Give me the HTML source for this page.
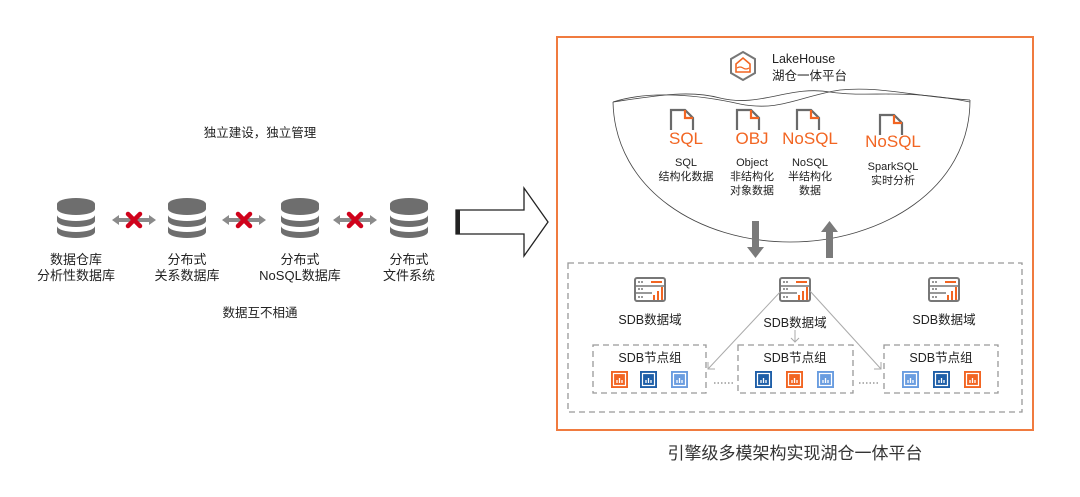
<!DOCTYPE html>
<html><head><meta charset="utf-8"><style>
html,body{margin:0;padding:0;background:#fff;width:1080px;height:497px;overflow:hidden}
svg text{font-family:"Liberation Sans","Noto Sans CJK SC",sans-serif}
</style></head><body>
<svg width="1080" height="497" viewBox="0 0 1080 497" xmlns="http://www.w3.org/2000/svg">
<defs>
<g id="db">
<path d="M-19,-14 a19,6 0 0 1 38,0 v5 a19,6 0 0 1 -38,0z" fill="#6e6e6e"/>
<path d="M-19,-3 a19,6 0 0 0 38,0 v6 a19,6 0 0 1 -38,0z" fill="#6e6e6e"/>
<path d="M-19,8 a19,6 0 0 0 38,0 v6 a19,6 0 0 1 -38,0z" fill="#6e6e6e"/>
</g>
<g id="xar">
<path d="M-22,0 l7,-5 v3 h30 v-3 l7,5 l-7,5 v-3 h-30 v3z" fill="#8a8a8a"/>
<path d="M-6,-6 l12,12 M6,-6 l-12,12" stroke="#d0021b" stroke-width="4.5" stroke-linecap="round"/>
</g>
<g id="doc">
<path d="M-13,14 v-20 h14 l8,8 v12" fill="none" stroke="#6a6a6a" stroke-width="2.2"/>
<path d="M1,-6 v8 h8" fill="none" stroke="#f26522" stroke-width="2.2"/>
</g>
<g id="srv">
<rect x="-15" y="-11" width="30" height="23" rx="2" fill="none" stroke="#777" stroke-width="2"/>
<line x1="-15" y1="-3" x2="15" y2="-3" stroke="#777" stroke-width="1.5"/>
<line x1="-15" y1="4" x2="2" y2="4" stroke="#777" stroke-width="1.5"/>
<circle cx="-11" cy="-7" r="1" fill="#777"/><circle cx="-8" cy="-7" r="1" fill="#777"/>
<circle cx="-11" cy="0" r="1" fill="#777"/><circle cx="-8" cy="0" r="1" fill="#777"/>
<circle cx="-11" cy="8" r="1" fill="#777"/><circle cx="-8" cy="8" r="1" fill="#777"/>
<line x1="1" y1="-7" x2="12" y2="-7" stroke="#f26522" stroke-width="2"/>
<path d="M4,11 v-5 M8,11 v-9 M12,11 v-13" stroke="#f26522" stroke-width="2"/>
</g>
<g id="nd">
<rect x="0" y="0" width="17" height="17"/>
<rect x="2.5" y="2.5" width="12" height="12" fill="none" stroke="#fff" stroke-width="1.2"/>
<path d="M6,12 v-3 M8.5,12 v-5 M11,12 v-3" stroke="#fff" stroke-width="1.3"/>
</g>
</defs>

<text x="260" y="137" font-size="12.5" text-anchor="middle" fill="#222">独立建设，独立管理</text>
<use href="#db" x="76" y="218"/><use href="#db" x="187" y="218"/><use href="#db" x="300" y="218"/><use href="#db" x="409" y="218"/>
<use href="#xar" x="134" y="220"/><use href="#xar" x="244" y="220"/><use href="#xar" x="355" y="220"/>
<g font-size="13" text-anchor="middle" fill="#222">
<text x="76" y="264">数据仓库</text><text x="76" y="280">分析性数据库</text>
<text x="187" y="264">分布式</text><text x="187" y="280">关系数据库</text>
<text x="300" y="264">分布式</text><text x="300" y="280">NoSQL数据库</text>
<text x="409" y="264">分布式</text><text x="409" y="280">文件系统</text>
<text x="260" y="317" font-size="12.5">数据互不相通</text>
</g>
<path d="M456,210 h68 v-22 l24,34 l-24,34 v-22 h-68z" fill="#fff" stroke="#222" stroke-width="1.3"/>
<rect x="456" y="210" width="4" height="24" fill="#222"/>

<rect x="557" y="37" width="476" height="393" fill="none" stroke="#f07b3f" stroke-width="2"/>
<text x="795" y="459" font-size="17" text-anchor="middle" fill="#333">引擎级多模架构实现湖仓一体平台</text>

<polygon points="743,52 755,59 755,73 743,80 731,73 731,59" fill="none" stroke="#777" stroke-width="2"/>
<path d="M736,72 v-8 l7,-6 l7,6 v8z" fill="none" stroke="#f26522" stroke-width="1.6"/>
<path d="M737,68 q3,-2 6,0 t6,0" fill="none" stroke="#f26522" stroke-width="1.3"/>
<text x="772" y="63" font-size="12.5" fill="#222">LakeHouse</text>
<text x="772" y="80" font-size="12.5" fill="#222">湖仓一体平台</text>

<path d="M613,102 C660,95 690,90 720,98 C760,108 790,85 830,92 C870,98 900,88 970,102" fill="none" stroke="#444" stroke-width="0.8"/>
<path d="M613,102 C650,90 700,95 740,104 C780,112 800,96 840,90 C880,86 910,96 970,100" fill="none" stroke="#444" stroke-width="0.8"/>
<path d="M613,102 C615,190 700,242 790,242 C880,242 970,190 970,100" fill="none" stroke="#444" stroke-width="0.8"/>

<use href="#doc" x="684" y="116"/><use href="#doc" x="750" y="116"/><use href="#doc" x="810" y="116"/><use href="#doc" x="893" y="121"/>
<g fill="#f26522" font-size="17" text-anchor="middle">
<text x="686" y="144">SQL</text><text x="752" y="144">OBJ</text><text x="810" y="144">NoSQL</text><text x="893" y="147">NoSQL</text>
</g>
<g font-size="11" text-anchor="middle" fill="#222">
<text x="686" y="166">SQL</text><text x="686" y="180">结构化数据</text>
<text x="752" y="166">Object</text><text x="752" y="180">非结构化</text><text x="752" y="194">对象数据</text>
<text x="810" y="166">NoSQL</text><text x="810" y="180">半结构化</text><text x="810" y="194">数据</text>
<text x="893" y="170">SparkSQL</text><text x="893" y="184">实时分析</text>
</g>
<path d="M752,221 h7 v26 h5 l-8.5,11 l-8.5,-11 h5z" fill="#7a7a7a"/>
<path d="M826,258 h7 v-26 h5 l-8.5,-11 l-8.5,11 h5z" fill="#7a7a7a"/>

<rect x="568" y="263" width="454" height="149" fill="none" stroke="#999" stroke-width="1.3" stroke-dasharray="6,4"/>
<use href="#srv" x="650" y="289"/><use href="#srv" x="795" y="289"/><use href="#srv" x="944" y="289"/>
<g font-size="12.5" text-anchor="middle" fill="#222">
<text x="650" y="324">SDB数据域</text><text x="795" y="327">SDB数据域</text><text x="944" y="324">SDB数据域</text>
</g>
<g stroke="#aaa" stroke-width="1" fill="none">
<line x1="781" y1="291" x2="708" y2="369"/><path d="M708,362 v7 h7"/>
<line x1="810" y1="291" x2="881" y2="369"/><path d="M874,369 h7 v-7"/>
<line x1="795" y1="330" x2="795" y2="342"/><path d="M791,338 l4,4 l4,-4"/>
</g>
<g fill="none" stroke="#999" stroke-width="1.3" stroke-dasharray="6,4">
<rect x="593" y="345" width="113" height="48"/><rect x="738" y="345" width="115" height="48"/><rect x="884" y="345" width="114" height="48"/>
</g>
<g font-size="12.5" text-anchor="middle" fill="#222">
<text x="650" y="362">SDB节点组</text><text x="795" y="362">SDB节点组</text><text x="941" y="362">SDB节点组</text>
</g>
<g>
<use href="#nd" x="611" y="371" fill="#f26522"/><use href="#nd" x="640" y="371" fill="#1f5fa8"/><use href="#nd" x="671" y="371" fill="#6a9de0"/>
<use href="#nd" x="755" y="371" fill="#1f5fa8"/><use href="#nd" x="786" y="371" fill="#f26522"/><use href="#nd" x="817" y="371" fill="#6a9de0"/>
<use href="#nd" x="902" y="371" fill="#6a9de0"/><use href="#nd" x="933" y="371" fill="#1f5fa8"/><use href="#nd" x="964" y="371" fill="#f26522"/>
</g>
<g stroke="#666" stroke-width="1" stroke-dasharray="1.5,2">
<line x1="714" y1="383" x2="733" y2="383"/><line x1="859" y1="383" x2="878" y2="383"/>
</g>
</svg>
</body></html>
